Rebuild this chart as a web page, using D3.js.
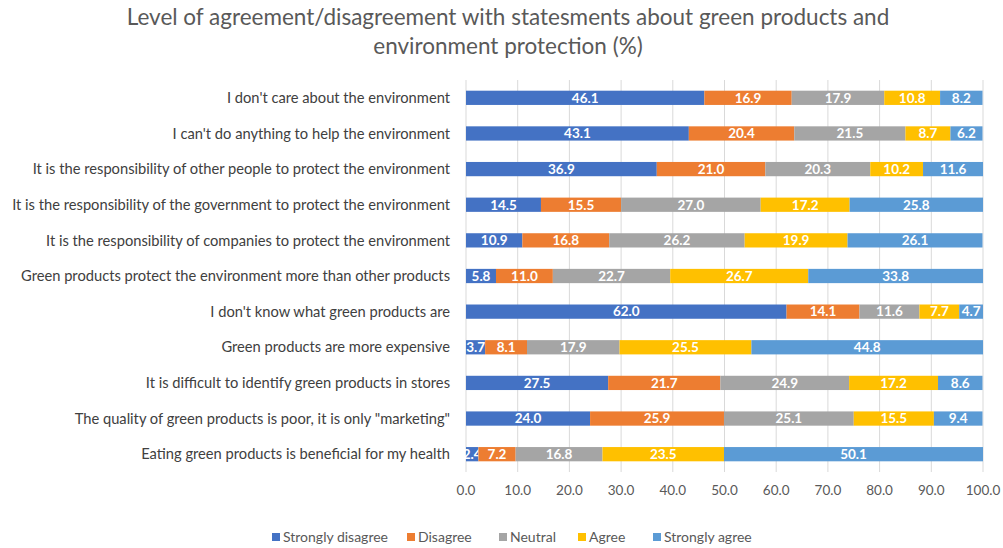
<!DOCTYPE html>
<html>
<head>
<meta charset="utf-8">
<script src="https://cdn.jsdelivr.net/npm/d3@7"></script>
<style>
  body { margin: 0; background: #fff; }
  svg { font-family: Lato, "Liberation Sans", sans-serif; }
</style>
</head>
<body>
<div id="chart"></div>
<script>
// statements, top to bottom
const statements = [
    "I don't care about the environment",
    "I can't do anything to help the environment",
    "It is the responsibility of other people to protect the environment",
    "It is the responsibility of the government to protect the environment",
    "It is the responsibility of companies to protect the environment",
    "Green products protect the environment more than other products",
    "I don't know what green products are",
    "Green products are more expensive",
    "It is difficult to identify green products in stores",
    "The quality of green products is poor, it is only \"marketing\"",
    "Eating green products is beneficial for my health"
];

const levels = ["Strongly disagree", "Disagree", "Neutral", "Agree", "Strongly agree"];
const levelColors = ["#4472C4", "#ED7D31", "#A5A5A5", "#FFC000", "#5B9BD5"];

const stronglyDisagree = [46.1, 43.1, 36.9, 14.5, 10.9, 5.8, 62.0, 3.7, 27.5, 24.0, 2.4];
const disagree         = [16.9, 20.4, 21.0, 15.5, 16.8, 11.0, 14.1, 8.1, 21.7, 25.9, 7.2];
const neutral          = [17.9, 21.5, 20.3, 27.0, 26.2, 22.7, 11.6, 17.9, 24.9, 25.1, 16.8];
const agree            = [10.8, 8.7, 10.2, 17.2, 19.9, 26.7, 7.7, 25.5, 17.2, 15.5, 23.5];
const stronglyAgree    = [8.2, 6.2, 11.6, 25.8, 26.1, 33.8, 4.7, 44.8, 8.6, 9.4, 50.1];

const xTicks = [0, 10, 20, 30, 40, 50, 60, 70, 80, 90, 100];

const title = ["Level of agreement/disagreement  with statesments about green products and",
               "environment protection (%)"];

// build table for stacking
const seriesValues = [stronglyDisagree, disagree, neutral, agree, stronglyAgree];
const rows = statements.map((s, i) => {
    const r = { statement: s };
    levels.forEach((lv, j) => { r[lv] = seriesValues[j][i]; });
    return r;
});
const stacked = d3.stack().keys(levels)(rows);

const width = 1003, height = 548;
const margin = { top: 80, right: 20, bottom: 76, left: 466 };

const svg = d3.select("#chart").append("svg")
    .attr("width", width)
    .attr("height", height);

// title
svg.append("g").selectAll("text")
    .data(title)
    .enter().append("text")
    .attr("x", 508)
    .attr("y", (d, i) => 25 + i * 29)
    .attr("text-anchor", "middle")
    .style("font-size", "22.5px")
    .style("fill", "#595959")
    .text(d => d);

const x = d3.scaleLinear().domain([0, 100]).range([margin.left, 983]);
const y = d3.scaleBand()
    .domain(statements)
    .range([margin.top, height - margin.bottom])
    .paddingInner(0.6)
    .paddingOuter(0.3);

// gridlines
svg.append("g").selectAll("line")
    .data(xTicks)
    .enter().append("line")
    .attr("x1", d => x(d)).attr("x2", d => x(d))
    .attr("y1", margin.top).attr("y2", height - margin.bottom)
    .style("stroke", "#d9d9d9")
    .style("stroke-width", 1);

// tick labels
svg.append("g").selectAll("text")
    .data(xTicks)
    .enter().append("text")
    .attr("x", d => x(d))
    .attr("y", 495)
    .attr("text-anchor", "middle")
    .style("font-size", "13.5px")
    .style("fill", "#595959")
    .text(d => d.toFixed(1));

// category labels
svg.append("g").selectAll("text")
    .data(statements)
    .enter().append("text")
    .attr("x", 450)
    .attr("y", d => y(d) + y.bandwidth() / 2)
    .attr("dy", "0.35em")
    .attr("text-anchor", "end")
    .style("font-size", "14.7px")
    .style("fill", "#404040")
    .text(d => d);

// bars
const groups = svg.append("g").selectAll("g")
    .data(stacked)
    .enter().append("g")
    .style("fill", (d, i) => levelColors[i]);

groups.selectAll("rect")
    .data(d => d)
    .enter().append("rect")
    .attr("x", d => x(d[0]))
    .attr("y", d => y(d.data.statement))
    .attr("width", d => Math.max(0, Math.min(x(d[1]), x(100)) - x(d[0])))
    .attr("height", y.bandwidth());

// value labels
groups.selectAll("text")
    .data(d => d)
    .enter().append("text")
    .attr("x", d => (x(d[0]) + Math.min(x(d[1]), x(100))) / 2)
    .attr("y", d => y(d.data.statement) + y.bandwidth() / 2)
    .attr("dy", "0.36em")
    .attr("text-anchor", "middle")
    .style("font-size", "13.5px")
    .style("font-weight", "bold")
    .style("fill", "#ffffff")
    .text(d => (d[1] - d[0]).toFixed(1));

// legend
const legendX = [272, 407, 499, 578, 653];
const legend = svg.append("g").selectAll("g")
    .data(levels)
    .enter().append("g")
    .attr("transform", (d, i) => `translate(${legendX[i]},537)`);

legend.append("rect")
    .attr("x", 0).attr("y", -4)
    .attr("width", 8).attr("height", 8)
    .style("fill", (d, i) => levelColors[i]);

legend.append("text")
    .attr("x", 11)
    .attr("dy", "0.35em")
    .style("font-size", "14px")
    .style("fill", "#595959")
    .text(d => d);
</script>
</body>
</html>
